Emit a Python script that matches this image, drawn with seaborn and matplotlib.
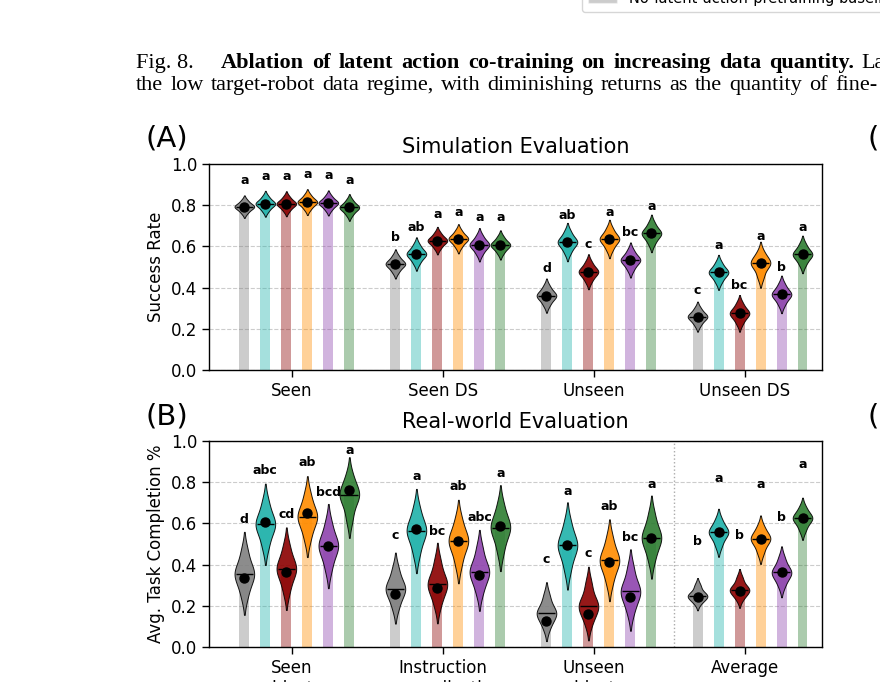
import numpy as np
import matplotlib
matplotlib.use("Agg")
import matplotlib.pyplot as plt
from matplotlib.patches import Patch
import seaborn as sns

# Methods (only the baseline is named in the visible legend) and their colours
methods = ["No-latent-action-pretraining baseline", "m2", "m3", "m4", "m5", "m6"]
colors = ["#808080", "#20b2aa", "#8b0000", "#ff8c00", "#8e44ad", "#2e7d32"]

# (A) Simulation evaluation: rows = methods, columns = groups
sim_groups = ["Seen", "Seen DS", "Unseen", "Unseen DS"]
sim_mean = [
    [0.793, 0.515, 0.361, 0.259],
    [0.807, 0.563, 0.621, 0.474],
    [0.807, 0.628, 0.477, 0.275],
    [0.815, 0.637, 0.636, 0.518],
    [0.811, 0.608, 0.534, 0.367],
    [0.789, 0.607, 0.663, 0.561],
]
sim_low = [
    [0.766, 0.480, 0.320, 0.223],
    [0.776, 0.523, 0.575, 0.432],
    [0.777, 0.595, 0.435, 0.231],
    [0.784, 0.602, 0.590, 0.456],
    [0.781, 0.568, 0.492, 0.322],
    [0.757, 0.572, 0.618, 0.516],
]
sim_high = [
    [0.820, 0.550, 0.402, 0.295],
    [0.838, 0.603, 0.667, 0.516],
    [0.837, 0.661, 0.519, 0.319],
    [0.846, 0.672, 0.682, 0.566],
    [0.841, 0.648, 0.576, 0.412],
    [0.821, 0.642, 0.708, 0.606],
]
sim_letters = [
    ["a", "b", "d", "c"],
    ["a", "ab", "ab", "a"],
    ["a", "a", "c", "bc"],
    ["a", "a", "a", "a"],
    ["a", "a", "bc", "b"],
    ["a", "a", "a", "a"],
]
sim_letter_y = [
    [0.922, 0.644, 0.493, 0.388],
    [0.938, 0.693, 0.752, 0.602],
    [0.938, 0.757, 0.607, 0.408],
    [0.947, 0.764, 0.764, 0.647],
    [0.943, 0.739, 0.667, 0.497],
    [0.919, 0.739, 0.796, 0.693],
]

# (B) Real-world evaluation
real_groups = ["Seen\nobjects", "Instruction\ngeneralization", "Unseen\nobjects", "Average"]
real_mean = [
    [0.337, 0.257, 0.128, 0.242],
    [0.606, 0.573, 0.493, 0.557],
    [0.366, 0.286, 0.160, 0.270],
    [0.650, 0.515, 0.412, 0.525],
    [0.491, 0.350, 0.245, 0.362],
    [0.762, 0.589, 0.531, 0.628],
]
real_median = [
    [0.355, 0.283, 0.165, 0.249],
    [0.596, 0.565, 0.493, 0.557],
    [0.380, 0.305, 0.200, 0.278],
    [0.633, 0.515, 0.420, 0.525],
    [0.491, 0.366, 0.270, 0.362],
    [0.737, 0.580, 0.531, 0.625],
]
real_low = [
    [0.258, 0.201, 0.101, 0.218],
    [0.498, 0.462, 0.386, 0.497],
    [0.281, 0.214, 0.123, 0.238],
    [0.536, 0.412, 0.323, 0.463],
    [0.389, 0.275, 0.179, 0.304],
    [0.629, 0.474, 0.434, 0.572],
]
real_high = [
    [0.457, 0.371, 0.242, 0.295],
    [0.693, 0.664, 0.595, 0.612],
    [0.479, 0.407, 0.299, 0.331],
    [0.730, 0.612, 0.519, 0.579],
    [0.591, 0.469, 0.374, 0.426],
    [0.822, 0.680, 0.633, 0.673],
]
real_letters = [
    ["d", "c", "c", "b"],
    ["abc", "a", "a", "a"],
    ["cd", "bc", "c", "b"],
    ["ab", "ab", "ab", "a"],
    ["bcd", "abc", "bc", "b"],
    ["a", "a", "a", "a"],
]
real_letter_y = [
    [0.617, 0.540, 0.427, 0.512],
    [0.856, 0.827, 0.754, 0.816],
    [0.641, 0.560, 0.456, 0.540],
    [0.897, 0.779, 0.682, 0.787],
    [0.751, 0.628, 0.531, 0.628],
    [0.956, 0.840, 0.790, 0.884],
]

caption_bold = "Ablation of latent action co-training on increasing data quantity."
caption_line2 = "the low target-robot data regime, with diminishing returns as the quantity of fine-"

# layout constants
offsets = -0.314 + 0.139 * np.arange(6)
bar_w = 0.066
vio_w = 0.13

sns.set_style("ticks")
plt.rcParams["font.family"] = ["DejaVu Sans"]
plt.rcParams["font.size"] = 12
for key in ["text.color", "axes.labelcolor", "xtick.color", "ytick.color"]:
    plt.rcParams[key] = "black"

fig = plt.figure(figsize=(8.8, 6.82), dpi=100)
axA = fig.add_axes([209 / 880, 1 - 370 / 682, 613 / 880, 206 / 682])
axB = fig.add_axes([209 / 880, 1 - 647 / 682, 613 / 880, 206 / 682])


def draw_panel(ax, groups, means, medians, lows, highs, letters, letter_y):
    for j in range(len(methods)):
        for i in range(len(groups)):
            pos = i + offsets[j]
            med = medians[j][i]
            ax.bar(pos, means[j][i], width=bar_w, color=colors[j], alpha=0.4,
                   linewidth=0, zorder=2)
            samples = [lows[j][i], med, med, med, highs[j][i]]
            sns.violinplot(x=[pos] * len(samples), y=samples, native_scale=True,
                           orient="x", width=vio_w, density_norm="width", cut=2,
                           inner=None, color=colors[j], saturation=1,
                           linecolor="black", linewidth=0.7, alpha=0.9,
                           zorder=3, ax=ax)
            ax.hlines(med, pos - vio_w * 0.45, pos + vio_w * 0.45,
                      color="black", linewidth=1.0, zorder=4)
            ax.scatter([pos], [means[j][i]], s=42, color="black", zorder=5)
            ax.text(pos, letter_y[j][i], letters[j][i], ha="center", va="center",
                    fontsize=9, fontweight="bold", color="black", zorder=6)
    ax.set_xlim(-0.548, 3.51)
    ax.set_ylim(0, 1.0)
    ax.set_xticks(range(len(groups)))
    ax.set_xticklabels(groups, fontsize=12)
    ax.set_yticks(np.arange(0, 1.01, 0.2))
    ax.set_yticklabels([f"{v:.1f}" for v in np.arange(0, 1.01, 0.2)], fontsize=12)
    ax.yaxis.grid(True, linestyle="--", color="#cccccc", linewidth=0.8)
    ax.set_axisbelow(True)
    ax.tick_params(direction="out", length=5, width=1)
    for sp in ax.spines.values():
        sp.set_visible(True)
        sp.set_color("black")
        sp.set_linewidth(1.0)


draw_panel(axA, sim_groups, sim_mean, sim_mean, sim_low, sim_high,
           sim_letters, sim_letter_y)
draw_panel(axB, real_groups, real_mean, real_median, real_low, real_high,
           real_letters, real_letter_y)

# separator before the Average group
axB.axvline(((2 + offsets[-1]) + (3 + offsets[0])) / 2, color="#aaaaaa",
            linestyle=":", linewidth=1.0, zorder=1)

axA.set_title("Simulation Evaluation", fontsize=15, pad=8)
axB.set_title("Real-world Evaluation", fontsize=15, pad=9)
axA.set_ylabel("Success Rate", fontsize=12)
axB.set_ylabel("Avg. Task Completion %", fontsize=12)

fig.text(145 / 880, 1 - 138 / 682, "(A)", fontsize=21, va="center", ha="left")
fig.text(145 / 880, 1 - 416 / 682, "(B)", fontsize=21, va="center", ha="left")
fig.text(867 / 880, 1 - 138 / 682, "(C)", fontsize=21, va="center", ha="left")
fig.text(867 / 880, 1 - 416 / 682, "(D)", fontsize=21, va="center", ha="left")

# caption of the page, justified word by word like the typeset column
serif = ["Liberation Serif", "DejaVu Serif"]
cap_size = 16
renderer = fig.canvas.get_renderer()


def justify(words, x0, x1, y, **kw):
    items = [fig.text(0, 1 - y / 682, w, family=serif, fontsize=cap_size,
                      va="baseline", **kw) for w in words]
    widths = [t.get_window_extent(renderer).width for t in items]
    gap = (x1 - x0 - sum(widths)) / max(len(words) - 1, 1)
    x = x0
    for t, w in zip(items, widths):
        t.set_x(x / 880)
        x += w + gap


fig.text(136 / 880, 1 - 68 / 682, "Fig. 8.", family=serif, fontsize=cap_size,
         va="baseline")
justify(caption_bold.split(), 221, 854, 68, fontweight="bold")
fig.text(861 / 880, 1 - 68 / 682, "Latent", family=serif, fontsize=cap_size,
         va="baseline")
justify(caption_line2.split(), 136, 877, 90)

# bottom of the figure legend (rest lies above the crop)
fig.legend(handles=[Patch(facecolor="#808080", alpha=0.4, label=methods[0])],
           loc="lower left", bbox_to_anchor=(582 / 880, 1 - 12 / 682),
           fontsize=10.5, frameon=True, borderaxespad=0)

fig.savefig("out.png", dpi=100)
